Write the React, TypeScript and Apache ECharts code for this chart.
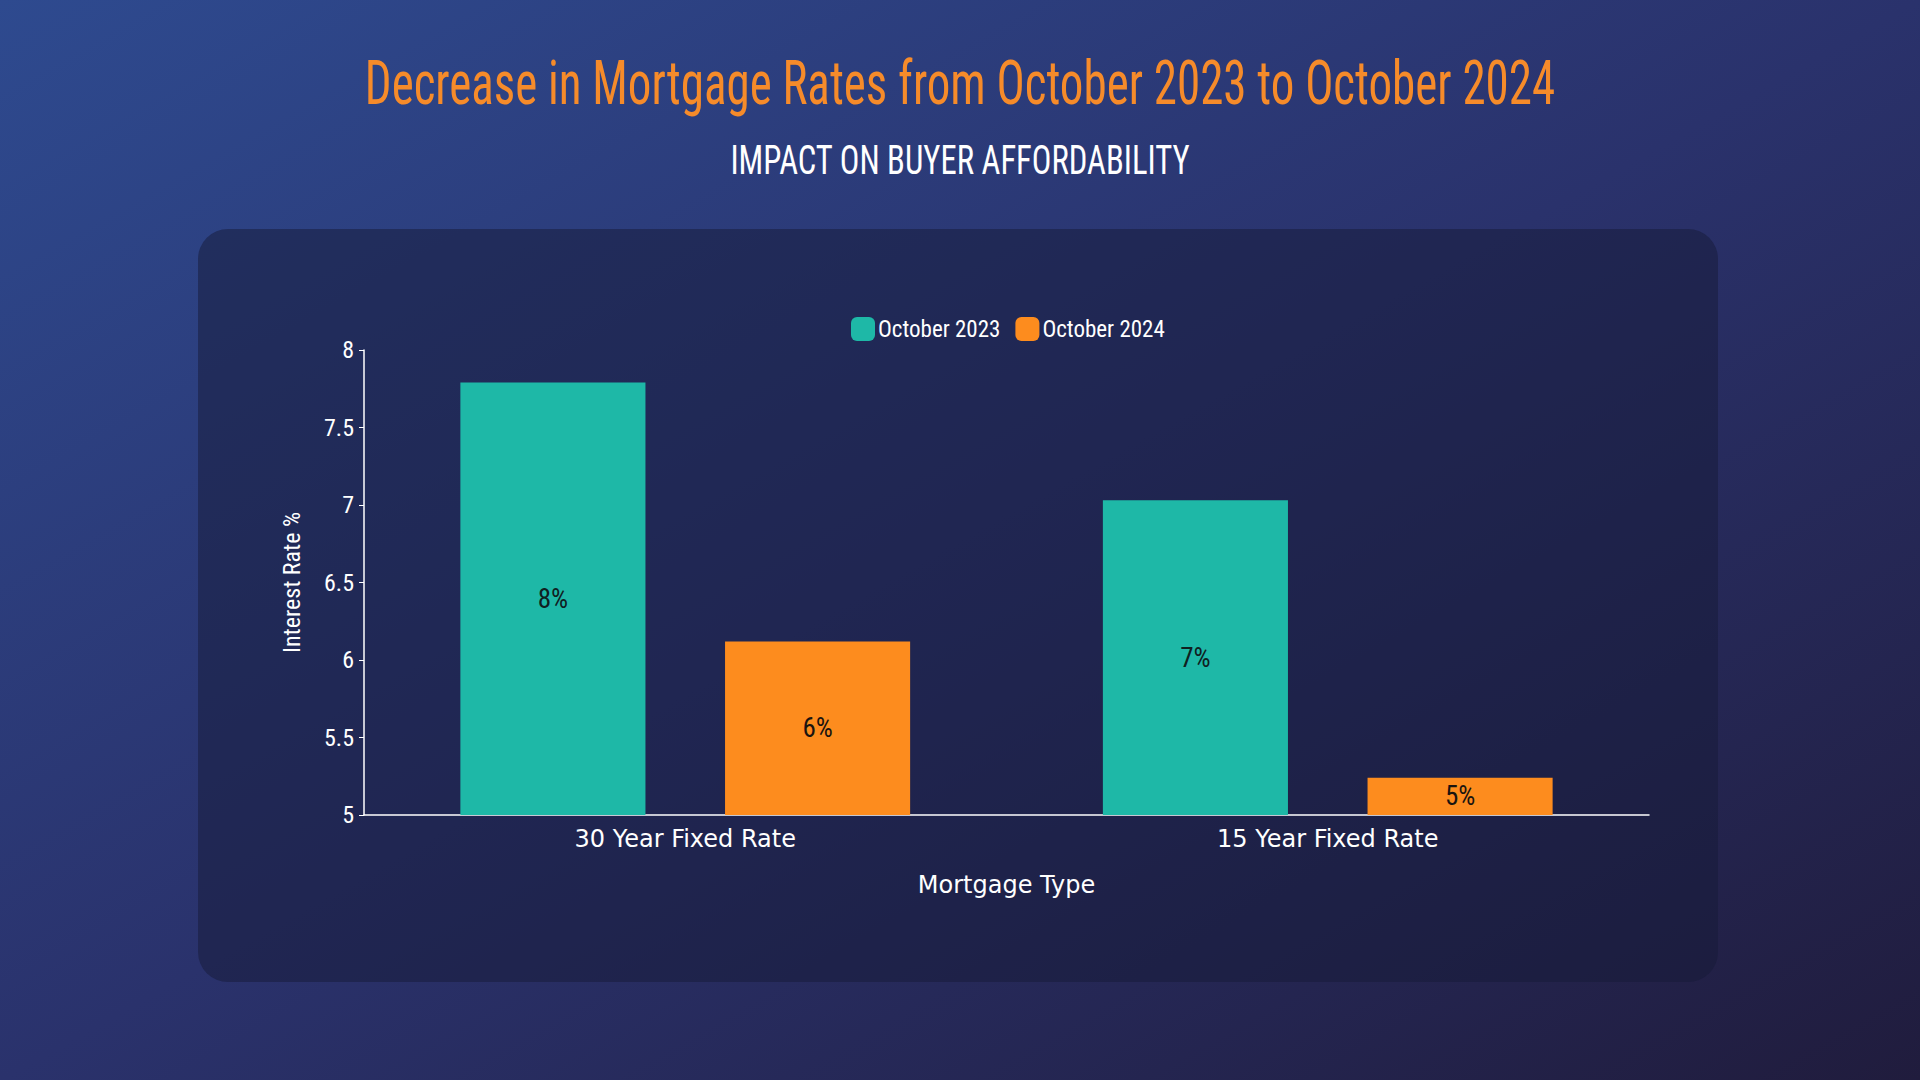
import React, { useEffect, useRef } from "react";
import * as echarts from "echarts";

const categories = ["30 Year Fixed Rate", "15 Year Fixed Rate"];
const seriesNames = ["October 2023", "October 2024"];
const oct2023 = [7.79, 7.03];
const oct2024 = [6.12, 5.24];
const yMin = 5;
const yMax = 8;
const yInterval = 0.5;

const TITLE = "Decrease in Mortgage Rates from October 2023 to October 2024";
const SUBTITLE = "IMPACT ON BUYER AFFORDABILITY";
const NARROW = "'Roboto Condensed', 'Liberation Sans Narrow', Roboto, sans-serif";
const SANS = "'DejaVu Sans', 'Open Sans', sans-serif";

function measure(text: string, font: string): number {
  const c = document.createElement("canvas");
  const ctx = c.getContext("2d");
  if (!ctx) return 1;
  ctx.font = font;
  return ctx.measureText(text).width || 1;
}

export default function App() {
  const ref = useRef<HTMLDivElement>(null);
  useEffect(() => {
    if (!ref.current) return;
    const chart = echarts.init(ref.current, undefined, { renderer: "svg" });
    const titleFont = `normal 62px ${NARROW}`;
    const titleScale = 1190 / measure(TITLE, titleFont);
    const subFont = `normal 40px ${NARROW}`;
    const subScale = 460 / measure(SUBTITLE, subFont);

    const option: any = {
      animation: false,
      backgroundColor: new echarts.graphic.LinearGradient(0, 0, 1, 1, [
        { offset: 0, color: "#2e4a8f" },
        { offset: 0.5, color: "#2a326c" },
        { offset: 1, color: "#201c3d" },
      ]),
      graphic: [
        {
          type: "rect",
          z: -1,
          shape: { x: 198, y: 229, width: 1520, height: 753, r: 30 },
          style: { fill: "rgba(22,26,55,0.5)" },
        },
        {
          type: "text",
          x: 960,
          y: 83,
          scaleX: titleScale,
          style: {
            text: TITLE,
            fill: "#f68b2a",
            font: titleFont,
            textAlign: "center",
            textVerticalAlign: "middle",
          },
        },
        {
          type: "text",
          x: 960,
          y: 160,
          scaleX: subScale,
          style: {
            text: SUBTITLE,
            fill: "#ffffff",
            font: subFont,
            textAlign: "center",
            textVerticalAlign: "middle",
          },
        },
      ],
      legend: {
        top: 312,
        left: 846,
        itemWidth: 24,
        itemHeight: 24,
        itemGap: 15,
        icon: "roundRect",
        textStyle: { color: "#ffffff", fontSize: 23, fontFamily: NARROW, padding: [0, 0, 0, -2] },
        data: seriesNames,
      },
      grid: { left: 364, right: 271, top: 350, bottom: 265 },
      xAxis: {
        type: "category",
        data: categories,
        name: "Mortgage Type",
        nameLocation: "middle",
        nameGap: 58,
        nameTextStyle: { color: "#ffffff", fontSize: 24, fontFamily: SANS },
        axisLine: { lineStyle: { color: "#ffffff", width: 1.5 } },
        axisTick: { alignWithLabel: true, length: 5, lineStyle: { color: "#ffffff" } },
        axisLabel: { color: "#ffffff", fontSize: 24, fontFamily: SANS, margin: 12 },
      },
      yAxis: {
        type: "value",
        min: yMin,
        max: yMax,
        interval: yInterval,
        name: "Interest Rate %",
        nameLocation: "middle",
        nameGap: 60,
        nameRotate: 90,
        nameTextStyle: { color: "#ffffff", fontSize: 24, fontFamily: NARROW },
        axisLine: { show: true, lineStyle: { color: "#ffffff", width: 1.5 } },
        axisTick: { show: true, length: 5, lineStyle: { color: "#ffffff" } },
        splitLine: { show: false },
        axisLabel: { color: "#ffffff", fontSize: 24, fontFamily: NARROW, margin: 10 },
      },
      series: [
        {
          name: seriesNames[0],
          type: "bar",
          data: oct2023,
          barCategoryGap: "30%",
          barGap: "43%",
          itemStyle: { color: "#1eb8a7" },
          label: {
            show: true,
            position: "inside",
            color: "#10201f",
            fontSize: 27,
            fontFamily: NARROW,
            formatter: (p: any) => Math.round(p.value) + "%",
          },
        },
        {
          name: seriesNames[1],
          type: "bar",
          data: oct2024,
          barCategoryGap: "30%",
          barGap: "43%",
          itemStyle: { color: "#fd8c1e" },
          label: {
            show: true,
            position: "inside",
            color: "#1a1410",
            fontSize: 27,
            fontFamily: NARROW,
            formatter: (p: any) => Math.round(p.value) + "%",
          },
        },
      ],
    };
    chart.setOption(option);
    return () => chart.dispose();
  }, []);
  return (
    <div
      ref={ref}
      style={{ position: "fixed", left: 0, top: 0, width: 1920, height: 1080 }}
    />
  );
}
